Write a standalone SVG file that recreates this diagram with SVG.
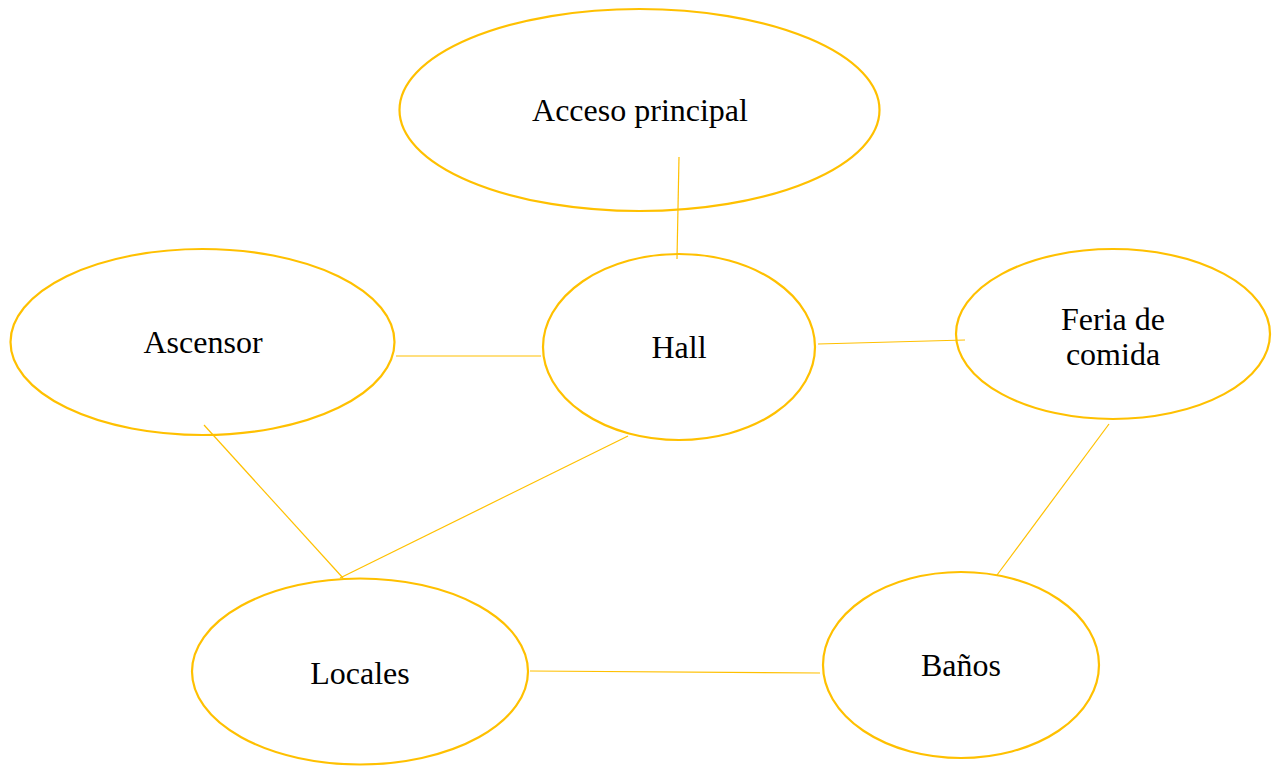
<svg xmlns="http://www.w3.org/2000/svg" width="1279" height="767" viewBox="0 0 1279 767">
<style>
.n ellipse{fill:#fff;stroke:#FFC000;stroke-width:2.2}
.c line{stroke:#FFC000;stroke-width:1.2}
text{font-family:"Liberation Serif","Times New Roman",serif;font-size:32px;fill:#000;text-anchor:middle}
</style>
<rect width="1279" height="767" fill="#fff"/>
<g id="acceso" class="n"><ellipse cx="639.5" cy="110" rx="240" ry="101"/><text x="640" y="121">Acceso principal</text></g>
<g id="ascensor" class="n"><ellipse cx="202.5" cy="342" rx="192" ry="93"/><text x="203" y="353">Ascensor</text></g>
<g id="hall" class="n"><ellipse cx="679" cy="347" rx="136" ry="93"/><text x="679" y="358">Hall</text></g>
<g id="feria" class="n"><ellipse cx="1113" cy="334" rx="157" ry="85"/><text x="1113" y="330">Feria de</text><text x="1113" y="365">comida</text></g>
<g id="locales" class="n"><ellipse cx="360" cy="671.5" rx="168" ry="93"/><text x="360" y="684">Locales</text></g>
<g id="banos" class="n"><ellipse cx="961" cy="665" rx="138" ry="93"/><text x="961" y="676">Baños</text></g>
<g id="connectors" class="c">
<line x1="679" y1="157" x2="677" y2="259"/>
<line x1="396" y1="356" x2="541" y2="356"/>
<line x1="818" y1="344" x2="965" y2="340"/>
<line x1="204" y1="425" x2="343" y2="578"/>
<line x1="628" y1="436" x2="340" y2="578"/>
<line x1="1109" y1="424" x2="997" y2="575"/>
<line x1="530" y1="671" x2="820" y2="673"/>
</g>
</svg>
